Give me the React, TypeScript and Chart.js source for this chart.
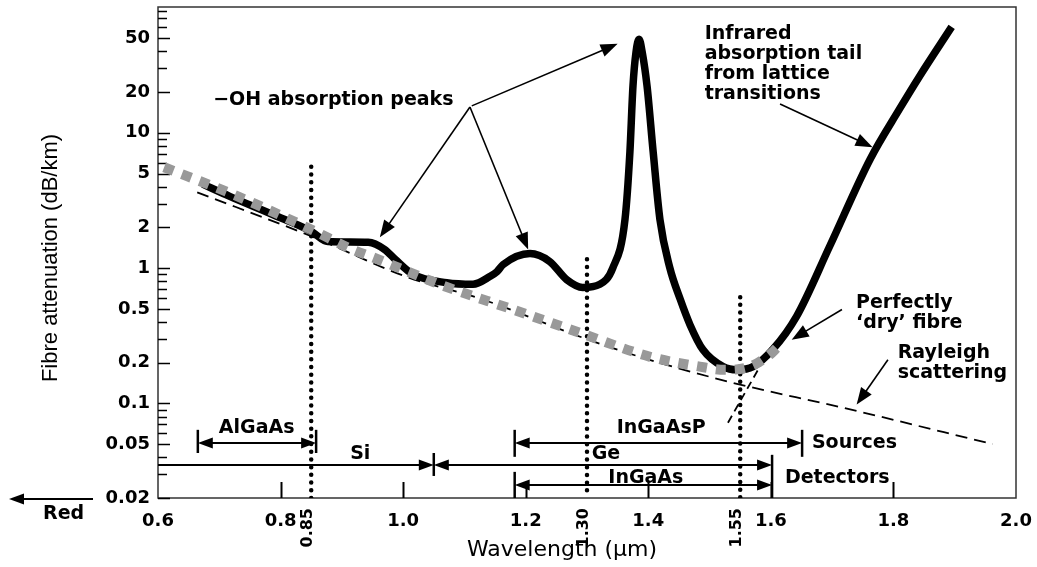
import React, { useEffect, useRef } from "react";
import { Chart, registerables } from "chart.js";

Chart.register(...registerables);

// ---- Data ----
const fibreWavelengths = [0.673, 0.717, 0.786, 0.85, 0.877, 0.943, 0.97, 0.987, 1.016, 1.071, 1.114, 1.142, 1.153, 1.163, 1.207, 1.239, 1.267, 1.293, 1.321, 1.342, 1.362, 1.37, 1.375, 1.38, 1.385, 1.39, 1.398, 1.408, 1.419, 1.435, 1.452, 1.468, 1.489, 1.522, 1.545, 1.571, 1.603, 1.642, 1.696, 1.762, 1.81, 1.843, 1.895];
const fibreAttenuation = [4.17, 3.39, 2.5, 1.87, 1.57, 1.55, 1.37, 1.16, 0.9, 0.78, 0.76, 0.87, 0.94, 1.06, 1.28, 1.12, 0.82, 0.72, 0.76, 1.0, 2.29, 7.19, 22.1, 39.6, 49, 39.6, 22.1, 7.19, 2.29, 1.01, 0.59, 0.382, 0.25, 0.187, 0.177, 0.187, 0.25, 0.44, 1.45, 6.38, 15.0, 26.3, 60.6];

const dryWavelengths = [0.61, 0.722, 0.85, 0.917, 0.951, 1.06, 1.179, 1.288, 1.403, 1.484, 1.525, 1.566, 1.598, 1.61];
const dryAttenuation = [5.56, 3.51, 1.93, 1.37, 1.2, 0.757, 0.494, 0.333, 0.221, 0.187, 0.177, 0.187, 0.229, 0.258];

const rayleighWavelengths = [0.664, 0.85, 1.004, 1.13, 1.293, 1.386, 1.538, 1.713, 1.962];
const rayleighAttenuation = [3.63, 1.72, 0.867, 0.586, 0.306, 0.221, 0.142, 0.094, 0.05];

const irTailWavelengths = [1.53, 1.6];
const irTailAttenuation = [0.072, 0.26];

const markerWavelengths = [0.85, 1.3, 1.55];
const markerLabels = ["0.85", "1.30", "1.55"];
const markerTops = [5.6, 1.16, 0.61];

const xTickValues = [0.6, 0.8, 1.0, 1.2, 1.4, 1.6, 1.8, 2.0];
const yTickLabels = [0.02, 0.05, 0.1, 0.2, 0.5, 1, 2, 5, 10, 20, 50];
const yMinorMultipliers = [1, 2, 3, 4, 5, 6, 7, 8, 9];
const yDecades = [0.01, 0.1, 1, 10];

// range arrows (sources / detectors)
const rangeNames = ["AlGaAs", "Si", "Ge", "InGaAsP", "InGaAs"];
const rangeStarts = [0.665, 0.6, 1.05, 1.182, 1.182];
const rangeEnds = [0.858, 1.05, 1.602, 1.651, 1.602];
const rangeLevels = [0.051, 0.035, 0.035, 0.051, 0.0249];
const rangeStartHeads = [true, false, true, true, true];
const rangeLabelWavelengths = [0.761, 0.93, 1.331, 1.421, 1.396];
const rangeLabelLevels = [0.066, 0.0424, 0.0424, 0.066, 0.0281];

const barWavelengths = [0.665, 0.858, 1.05, 1.182, 1.651, 1.182, 1.602];
const barTops = [0.0638, 0.0638, 0.043, 0.0638, 0.0638, 0.0312, 0.0417];
const barBottoms = [0.043, 0.043, 0.0291, 0.0403, 0.0403, 0.02, 0.02];

const groupNames = ["Sources", "Detectors"];
const groupWavelengths = [1.667, 1.623];
const groupLevels = [0.051, 0.0281];

// pointer annotations
const noteLines = [
  ["\u2212OH absorption peaks"],
  ["Infrared", "absorption tail", "from lattice", "transitions"],
  ["Perfectly", "\u2018dry\u2019 fibre"],
  ["Rayleigh", "scattering"],
];
const noteWavelengths = [0.69, 1.492, 1.739, 1.807];
const noteLevels = [17.5, 54, 0.556, 0.237];

const pointerStartWavelengths = [1.109, 1.109, 1.112, 1.615, 1.716, 1.791];
const pointerStartLevels = [15.5, 15.5, 15.8, 16.3, 0.494, 0.21];
const pointerEndWavelengths = [0.962, 1.204, 1.35, 1.766, 1.634, 1.74];
const pointerEndLevels = [1.69, 1.37, 45.4, 7.83, 0.296, 0.098];

const xTitle = "Wavelength (\u03bcm)";
const yTitle = "Fibre attenuation (dB/km)";
const redLabel = "Red";

// ---- helpers ----
const BOLD = "'DejaVu Sans', 'Liberation Sans', sans-serif";

function arrowHead(ctx: CanvasRenderingContext2D, fx: number, fy: number, tx: number, ty: number, len: number, half: number) {
  const a = Math.atan2(ty - fy, tx - fx);
  const bx = tx - len * Math.cos(a);
  const by = ty - len * Math.sin(a);
  ctx.beginPath();
  ctx.moveTo(tx, ty);
  ctx.lineTo(bx + half * Math.sin(a), by - half * Math.cos(a));
  ctx.lineTo(bx - half * Math.sin(a), by + half * Math.cos(a));
  ctx.closePath();
  ctx.fill();
  return [bx, by];
}

function arrow(ctx: CanvasRenderingContext2D, x1: number, y1: number, x2: number, y2: number, len: number, half: number, w: number) {
  const a = Math.atan2(y2 - y1, x2 - x1);
  ctx.lineWidth = w;
  ctx.beginPath();
  ctx.moveTo(x1, y1);
  ctx.lineTo(x2 - (len - 2) * Math.cos(a), y2 - (len - 2) * Math.sin(a));
  ctx.stroke();
  arrowHead(ctx, x1, y1, x2, y2, len, half);
}

const yAllTicks: number[] = [];
yDecades.forEach((d) => yMinorMultipliers.forEach((m) => {
  const v = Number((m * d).toPrecision(3));
  if (v >= 0.02 && v <= 80) yAllTicks.push(v);
}));
const isLabelled = (v: number) => yTickLabels.some((t) => Math.abs(t - v) < 1e-9);

const overlayPlugin = {
  id: "overlay",
  beforeDatasetsDraw(chart: any) {
    const { ctx, chartArea } = chart;
    const xs = chart.scales.x;
    const ys = chart.scales.y;
    ctx.save();
    ctx.strokeStyle = "#333";
    ctx.lineWidth = 1.5;
    ctx.strokeRect(chartArea.left, chartArea.top, chartArea.right - chartArea.left, chartArea.bottom - chartArea.top);
    ctx.strokeStyle = "#000";
    ctx.lineWidth = 1.5;
    yAllTicks.forEach((v) => {
      const y = Math.round(ys.getPixelForValue(v)) + 0.5;
      const len = isLabelled(v) ? 12 : 9;
      ctx.beginPath();
      ctx.moveTo(chartArea.left, y);
      ctx.lineTo(chartArea.left + len, y);
      ctx.stroke();
    });
    ctx.lineWidth = 2;
    xTickValues.slice(1, -1).forEach((v) => {
      const x = Math.round(xs.getPixelForValue(v)) + 0.5;
      ctx.beginPath();
      ctx.moveTo(x, chartArea.bottom);
      ctx.lineTo(x, chartArea.bottom - 16);
      ctx.stroke();
    });
    ctx.restore();
  },
  afterDatasetsDraw(chart: any) {
    const { ctx, chartArea } = chart;
    const xs = chart.scales.x;
    const ys = chart.scales.y;
    const px = (v: number) => xs.getPixelForValue(v);
    const py = (v: number) => ys.getPixelForValue(v);
    ctx.save();
    ctx.fillStyle = "#000";
    ctx.strokeStyle = "#000";
    ctx.lineCap = "butt";

    // range arrows
    rangeNames.forEach((name, i) => {
      const y = py(rangeLevels[i]);
      const x1 = Math.max(px(rangeStarts[i]), chartArea.left);
      const x2 = px(rangeEnds[i]);
      ctx.lineWidth = 2;
      ctx.beginPath();
      ctx.moveTo(rangeStartHeads[i] ? x1 + 10 : x1, y);
      ctx.lineTo(x2 - 10, y);
      ctx.stroke();
      arrowHead(ctx, x1, y, x2, y, 15, 5.5);
      if (rangeStartHeads[i]) arrowHead(ctx, x2, y, x1, y, 15, 5.5);
      ctx.font = `bold 19px ${BOLD}`;
      ctx.textAlign = "center";
      ctx.textBaseline = "middle";
      ctx.fillText(name, px(rangeLabelWavelengths[i]), py(rangeLabelLevels[i]));
    });
    ctx.lineWidth = 2.5;
    barWavelengths.forEach((w, i) => {
      const x = px(w);
      ctx.beginPath();
      ctx.moveTo(x, py(barTops[i]));
      ctx.lineTo(x, py(barBottoms[i]));
      ctx.stroke();
    });
    ctx.font = `bold 19px ${BOLD}`;
    ctx.textAlign = "left";
    ctx.textBaseline = "middle";
    groupNames.forEach((g, i) => ctx.fillText(g, px(groupWavelengths[i]), py(groupLevels[i])));

    // notes
    noteLines.forEach((lines, i) => {
      const x = px(noteWavelengths[i]);
      const y0 = py(noteLevels[i]);
      lines.forEach((l, j) => ctx.fillText(l, x, y0 + j * 20));
    });
    pointerStartWavelengths.forEach((w, i) => {
      arrow(ctx, px(w), py(pointerStartLevels[i]), px(pointerEndWavelengths[i]), py(pointerEndLevels[i]), 17, 6.5, 1.6);
    });
    ctx.restore();
  },
  afterDraw(chart: any) {
    const { ctx, chartArea } = chart;
    const xs = chart.scales.x;
    ctx.save();
    ctx.fillStyle = "#000";
    ctx.strokeStyle = "#000";
    // rotated marker labels
    ctx.font = `bold 16px ${BOLD}`;
    markerWavelengths.forEach((w, i) => {
      ctx.save();
      ctx.translate(xs.getPixelForValue(w) - 3, chartArea.bottom + 10);
      ctx.rotate(-Math.PI / 2);
      ctx.textAlign = "right";
      ctx.textBaseline = "middle";
      ctx.fillText(markerLabels[i], 0, 0);
      ctx.restore();
    });
    // axis titles
    ctx.font = `22px ${BOLD}`;
    ctx.textAlign = "center";
    ctx.textBaseline = "middle";
    ctx.fillText(xTitle, 562, 550);
    ctx.save();
    ctx.translate(51, 258);
    ctx.rotate(-Math.PI / 2);
    ctx.font = "22px 'Liberation Sans', Arial, sans-serif";
    ctx.fillText(yTitle, 0, 0);
    ctx.restore();
    // "Red" arrow
    ctx.lineWidth = 2;
    ctx.beginPath();
    ctx.moveTo(93, chartArea.bottom + 1);
    ctx.lineTo(20, chartArea.bottom + 1);
    ctx.stroke();
    arrowHead(ctx, 93, chartArea.bottom + 1, 9, chartArea.bottom + 1, 15, 5.5);
    ctx.font = `bold 19px ${BOLD}`;
    ctx.textAlign = "left";
    ctx.fillText(redLabel, 43, chartArea.bottom + 16);
    ctx.restore();
  },
};

const toPoints = (xs: number[], ys: number[]) => xs.map((x, i) => ({ x, y: ys[i] }));

export default function App() {
  const ref = useRef<HTMLCanvasElement>(null);
  useEffect(() => {
    const canvas = ref.current!;
    const tickFont = { family: BOLD, size: 18, weight: "bold" as const };
    const markerSets = markerWavelengths.map((w, i) => ({
      label: "marker" + i,
      data: [{ x: w, y: markerTops[i] }, { x: w, y: 0.02 }],
      borderColor: "#000",
      borderWidth: 4.5,
      borderDash: [0, 7.7],
      borderCapStyle: "round" as const,
      pointRadius: 0,
      order: 4,
    }));
    const chart = new Chart(canvas, {
      type: "line",
      data: {
        datasets: [
          {
            label: "Perfectly dry fibre",
            data: toPoints(dryWavelengths, dryAttenuation),
            borderColor: "#999999",
            borderWidth: 10,
            borderDash: [10, 9],
            pointRadius: 0,
            cubicInterpolationMode: "monotone",
            order: 0,
          },
          {
            label: "Fibre attenuation",
            data: toPoints(fibreWavelengths, fibreAttenuation),
            borderColor: "#000",
            borderWidth: 7.5,
            pointRadius: 0,
            cubicInterpolationMode: "monotone",
            order: 1,
          },
          {
            label: "Rayleigh scattering",
            data: toPoints(rayleighWavelengths, rayleighAttenuation),
            borderColor: "#000",
            borderWidth: 1.8,
            borderDash: [12, 7],
            pointRadius: 0,
            cubicInterpolationMode: "monotone",
            order: 2,
          },
          {
            label: "IR tail",
            data: toPoints(irTailWavelengths, irTailAttenuation),
            borderColor: "#000",
            borderWidth: 1.8,
            borderDash: [8, 5],
            pointRadius: 0,
            order: 3,
          },
          ...markerSets,
        ] as any,
      },
      options: {
        responsive: false,
        animation: false,
        devicePixelRatio: 1,
        layout: { padding: { left: 0, top: 7, right: 21, bottom: 0 } },
        plugins: { legend: { display: false }, tooltip: { enabled: false } },
        scales: {
          x: {
            type: "linear",
            min: 0.6,
            max: 2.0,
            afterBuildTicks: (s: any) => { s.ticks = xTickValues.map((v) => ({ value: v })); },
            afterFit: (s: any) => { s.height = 69; s.paddingLeft = 0; s.paddingRight = 0; },
            ticks: {
              callback: (v: any) => Number(v).toFixed(1),
              font: tickFont,
              color: "#000",
              padding: 13,
              maxRotation: 0,
              autoSkip: false,
            },
            grid: { display: false, drawTicks: false },
            border: { display: false },
          },
          y: {
            type: "logarithmic",
            min: 0.02,
            max: 85,
            afterBuildTicks: (s: any) => { s.ticks = yAllTicks.map((v) => ({ value: v })); },
            afterFit: (s: any) => { s.width = 158; s.paddingTop = 0; s.paddingBottom = 0; },
            ticks: {
              callback: (v: any) => (isLabelled(Number(v)) ? String(Number(v)) : ""),
              font: tickFont,
              color: "#000",
              padding: 8,
              autoSkip: false,
            },
            grid: { display: false, drawTicks: false },
            border: { display: false },
          },
        },
      } as any,
      plugins: [overlayPlugin],
    });
    return () => chart.destroy();
  }, []);
  return (
    <div style={{ position: "fixed", left: 0, top: 0, width: 1037, height: 567, background: "#fff" }}>
      <canvas ref={ref} width={1037} height={567} style={{ display: "block", width: 1037, height: 567 }} />
    </div>
  );
}
